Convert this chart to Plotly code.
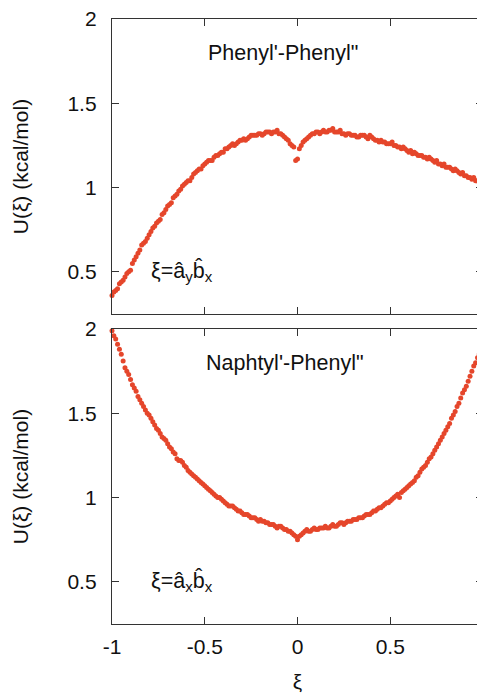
import plotly.graph_objects as go

# sample grid A (even hundredths)
xi_a = [-1.00,-0.98,-0.96,-0.94,-0.92,-0.90,-0.88,-0.86,-0.84,-0.82,
        -0.80,-0.78,-0.76,-0.74,-0.72,-0.70,-0.68,-0.66,-0.64,-0.62,
        -0.60,-0.58,-0.56,-0.54,-0.52,-0.50,-0.48,-0.46,-0.44,-0.42,
        -0.40,-0.38,-0.36,-0.34,-0.32,-0.30,-0.28,-0.26,-0.24,-0.22,
        -0.20,-0.18,-0.16,-0.14,-0.12,-0.10,-0.08,-0.06,-0.04,-0.02,
        0.00,0.02,0.04,0.06,0.08,0.10,0.12,0.14,0.16,0.18,
        0.20,0.22,0.24,0.26,0.28,0.30,0.32,0.34,0.36,0.38,
        0.40,0.42,0.44,0.46,0.48,0.50,0.52,0.54,0.56,0.58,
        0.60,0.62,0.64,0.66,0.68,0.70,0.72,0.74,0.76,0.78,
        0.80,0.82,0.84,0.86,0.88,0.90,0.92,0.94,0.96,0.98,1.00]

# sample grid B (odd hundredths)
xi_b = [-0.99,-0.97,-0.95,-0.93,-0.91,-0.89,-0.87,-0.85,-0.83,-0.81,
        -0.79,-0.77,-0.75,-0.73,-0.71,-0.69,-0.67,-0.65,-0.63,-0.61,
        -0.59,-0.57,-0.55,-0.53,-0.51,-0.49,-0.47,-0.45,-0.43,-0.41,
        -0.39,-0.37,-0.35,-0.33,-0.31,-0.29,-0.27,-0.25,-0.23,-0.21,
        -0.19,-0.17,-0.15,-0.13,-0.11,-0.09,-0.07,-0.05,-0.03,-0.01,
        0.01,0.03,0.05,0.07,0.09,0.11,0.13,0.15,0.17,0.19,
        0.21,0.23,0.25,0.27,0.29,0.31,0.33,0.35,0.37,0.39,
        0.41,0.43,0.45,0.47,0.49,0.51,0.53,0.55,0.57,0.59,
        0.61,0.63,0.65,0.67,0.69,0.71,0.73,0.75,0.77,0.79,
        0.81,0.83,0.85,0.87,0.89,0.91,0.93,0.95,0.97,0.99]

u_phenyl_a = [0.36,0.39,0.43,0.45,0.49,0.51,0.57,0.61,0.66,0.68,
              0.72,0.76,0.79,0.81,0.85,0.89,0.91,0.95,0.98,1.01,
              1.03,1.04,1.08,1.10,1.11,1.14,1.16,1.16,1.19,1.20,
              1.21,1.23,1.25,1.25,1.27,1.28,1.28,1.30,1.31,1.31,
              1.32,1.32,1.33,1.32,1.33,1.32,1.31,1.29,1.26,1.24,
              1.17,1.25,1.28,1.30,1.32,1.33,1.32,1.34,1.33,1.34,
              1.33,1.33,1.32,1.31,1.32,1.31,1.30,1.31,1.31,1.29,
              1.30,1.28,1.27,1.27,1.26,1.26,1.25,1.24,1.23,1.23,
              1.21,1.20,1.20,1.19,1.18,1.17,1.17,1.15,1.14,1.13,
              1.12,1.12,1.10,1.10,1.08,1.07,1.06,1.05,1.04,1.03,1.02]

u_phenyl_b = [0.38,0.40,0.44,0.47,0.50,0.55,0.59,0.63,0.67,0.70,
              0.74,0.77,0.80,0.84,0.87,0.90,0.94,0.96,0.99,1.02,
              1.04,1.06,1.09,1.11,1.13,1.15,1.16,1.18,1.19,1.21,
              1.23,1.24,1.26,1.26,1.28,1.29,1.29,1.31,1.31,1.32,
              1.31,1.33,1.33,1.33,1.34,1.32,1.30,1.28,1.25,1.16,
              1.23,1.27,1.29,1.31,1.32,1.33,1.33,1.33,1.34,1.35,
              1.33,1.34,1.32,1.32,1.31,1.31,1.30,1.31,1.30,1.31,
              1.29,1.28,1.28,1.27,1.26,1.27,1.25,1.24,1.24,1.22,
              1.22,1.21,1.19,1.19,1.18,1.18,1.16,1.16,1.14,1.14,
              1.12,1.11,1.11,1.09,1.09,1.07,1.06,1.06,1.04,1.02]

u_naphtyl_a = [1.99,1.94,1.88,1.81,1.75,1.70,1.65,1.60,1.56,1.52,
               1.49,1.45,1.41,1.38,1.35,1.32,1.29,1.26,1.22,1.21,
               1.18,1.15,1.13,1.11,1.09,1.07,1.05,1.03,1.01,1.00,
               0.98,0.96,0.95,0.94,0.92,0.91,0.90,0.89,0.88,0.87,
               0.87,0.86,0.85,0.84,0.83,0.83,0.82,0.81,0.80,0.78,
               0.75,0.78,0.80,0.80,0.81,0.81,0.82,0.82,0.82,0.83,
               0.83,0.84,0.85,0.85,0.86,0.87,0.87,0.88,0.89,0.90,
               0.91,0.92,0.94,0.95,0.97,0.98,1.00,1.02,1.03,1.05,
               1.07,1.09,1.12,1.15,1.18,1.21,1.24,1.28,1.32,1.36,
               1.40,1.44,1.49,1.54,1.59,1.64,1.69,1.75,1.80,1.85,1.90]

u_naphtyl_b = [1.96,1.91,1.85,1.77,1.73,1.67,1.63,1.58,1.54,1.50,
               1.47,1.43,1.40,1.36,1.34,1.30,1.27,1.23,1.22,1.19,
               1.16,1.14,1.12,1.10,1.08,1.06,1.04,1.02,1.00,0.99,
               0.97,0.95,0.95,0.93,0.92,0.90,0.90,0.88,0.88,0.86,
               0.86,0.85,0.84,0.84,0.82,0.83,0.81,0.80,0.79,0.77,
               0.77,0.79,0.81,0.80,0.82,0.81,0.82,0.83,0.82,0.84,
               0.83,0.85,0.84,0.86,0.86,0.87,0.88,0.88,0.90,0.90,
               0.92,0.93,0.94,0.96,0.97,0.99,1.01,1.00,1.04,1.06,
               1.08,1.10,1.13,1.17,1.19,1.23,1.26,1.30,1.34,1.38,
               1.42,1.47,1.51,1.56,1.62,1.66,1.72,1.78,1.83,1.88]

x_ticks = [-1, -0.5, 0, 0.5, 1]
x_labels = ["-1", "-0.5", "0", "0.5", "1"]
y_ticks = [0.5, 1, 1.5, 2]
y_labels = ["0.5", "1", "1.5", "2"]

FONT = "Liberation Sans, Arial, Helvetica, sans-serif"
DOT = "#e5462b"
AX = "#333333"
TXT = "#111111"
FS = 21
FA = 21.5

fig = go.Figure()
fig.add_trace(go.Scatter(x=xi_a + xi_b, y=u_phenyl_a + u_phenyl_b, mode="markers",
                         marker=dict(size=5, color=DOT), xaxis="x", yaxis="y",
                         showlegend=False, cliponaxis=False))
fig.add_trace(go.Scatter(x=xi_a + xi_b, y=u_naphtyl_a + u_naphtyl_b, mode="markers",
                         marker=dict(size=5, color=DOT), xaxis="x2", yaxis="y2",
                         showlegend=False, cliponaxis=False))

common_x = dict(range=[-1, 1], tickvals=x_ticks, ticktext=x_labels, ticks="inside",
                ticklen=7, tickcolor=AX, showline=True, linecolor=AX, linewidth=1.3,
                mirror="ticks", showgrid=False, zeroline=False,
                tickfont=dict(size=FS, color=TXT), ticklabelstandoff=4,
                ticklabeloverflow="allow")
common_y = dict(range=[0.25, 2], tickvals=y_ticks, ticktext=y_labels, ticks="inside",
                ticklen=7, tickcolor=AX, showline=True, linecolor=AX, linewidth=1.3,
                mirror="ticks", showgrid=False, zeroline=False,
                tickfont=dict(size=FS, color=TXT), ticklabelstandoff=10,
                ticklabeloverflow="allow",
                title=dict(text="U(ξ) (kcal/mol)", font=dict(size=FS, color=TXT),
                           standoff=33))

# page body has an 8px margin, so the figure is drawn 8px in from the window edge
top_dom = [(616 - 306) / 605, 1.0]
bot_dom = [0.0, (616 - 321) / 605]

fig.update_layout(
    width=477, height=685,
    margin=dict(l=104, r=2, t=11, b=69, autoexpand=False),
    paper_bgcolor="white", plot_bgcolor="white",
    font=dict(family=FONT, size=FS, color=TXT),
    xaxis=dict(common_x, anchor="y", showticklabels=False),
    yaxis=dict(common_y, domain=top_dom, anchor="x"),
    xaxis2=dict(common_x, anchor="y2",
                title=dict(text="ξ", font=dict(size=FS, color=TXT), standoff=23)),
    yaxis2=dict(common_y, domain=bot_dom, anchor="x2"),
    annotations=[
        dict(text="Phenyl'-Phenyl\"", x=-0.08, y=1.80, xref="x", yref="y",
             showarrow=False, font=dict(size=FA, color=TXT)),
        dict(text="ξ=â<sub>y</sub>b\u0302<sub>x</sub>", x=-0.80, y=0.50, xref="x", yref="y",
             xanchor="left", showarrow=False, font=dict(size=FA, color=TXT)),
        dict(text="Naphtyl'-Phenyl\"", x=-0.07, y=1.80, xref="x2", yref="y2",
             showarrow=False, font=dict(size=FA, color=TXT)),
        dict(text="ξ=â<sub>x</sub>b\u0302<sub>x</sub>", x=-0.80, y=0.50, xref="x2", yref="y2",
             xanchor="left", showarrow=False, font=dict(size=FA, color=TXT)),
    ],
)

fig.write_html("out.html")
